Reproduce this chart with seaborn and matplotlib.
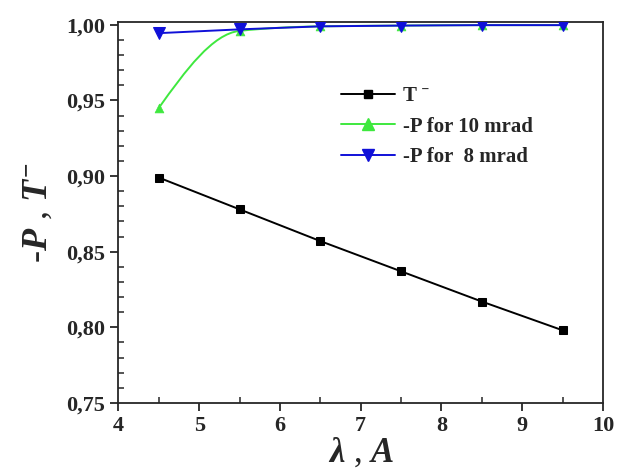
import numpy as np
import pandas as pd
import matplotlib
matplotlib.use("Agg")
import matplotlib.pyplot as plt
import seaborn as sns
from matplotlib.path import Path
from matplotlib.patches import PathPatch
from matplotlib.lines import Line2D
from matplotlib.ticker import MultipleLocator, FuncFormatter

# data
wavelength = [4.5, 5.5, 6.5, 7.5, 8.5, 9.5]
t_minus = [0.899, 0.878, 0.857, 0.837, 0.817, 0.798]
p_10mrad = [0.945, 0.996, 0.999, 0.9995, 0.9998, 0.9998]
p_8mrad = [0.9945, 0.997, 0.999, 0.9995, 0.9998, 0.9998]

black = "#000000"
green = "#3ee83e"
blue = "#1010d8"

sns.set_style("ticks")
plt.rcParams["font.family"] = ["Liberation Serif", "DejaVu Serif"]
plt.rcParams["font.weight"] = "bold"
plt.rcParams["mathtext.fontset"] = "custom"
plt.rcParams["mathtext.rm"] = "Liberation Serif:bold"
plt.rcParams["mathtext.it"] = "Liberation Serif:bold:italic"
plt.rcParams["mathtext.bf"] = "Liberation Serif:bold"

fig = plt.figure(figsize=(6.23, 4.74), dpi=100)
ax = fig.add_axes([0.190, 0.150, 0.778, 0.804])

df = pd.DataFrame({"x": wavelength, "T": t_minus, "P10": p_10mrad, "P8": p_8mrad})

sns.lineplot(data=df, x="x", y="T", ax=ax, color=black, lw=1.4,
             marker="s", markersize=5.5, markeredgecolor=black)


# smooth curve for the 10 mrad series (Origin-style spline), monotone cubic bezier
def smooth_path(xs, ys):
    xs = np.asarray(xs, float)
    ys = np.asarray(ys, float)
    h = np.diff(xs)
    d = np.diff(ys) / h
    m = np.zeros_like(ys)
    for i in range(1, len(xs) - 1):
        if d[i - 1] * d[i] <= 0:
            m[i] = 0
        else:
            m[i] = 2 / (1 / d[i - 1] + 1 / d[i])
    m[0] = ((2 * h[0] + h[1]) * d[0] - h[0] * d[1]) / (h[0] + h[1])
    m[-1] = d[-1]
    verts = [(xs[0], ys[0])]
    codes = [Path.MOVETO]
    for i in range(len(xs) - 1):
        verts += [(xs[i] + h[i] / 3, ys[i] + m[i] * h[i] / 3),
                  (xs[i + 1] - h[i] / 3, ys[i + 1] - m[i + 1] * h[i] / 3),
                  (xs[i + 1], ys[i + 1])]
        codes += [Path.CURVE4] * 3
    return Path(verts, codes)


ax.add_patch(PathPatch(smooth_path(wavelength, p_10mrad), fill=False,
                       edgecolor=green, lw=1.4, zorder=2))
sns.scatterplot(data=df, x="x", y="P10", ax=ax, color=green, marker="^",
                s=40, edgecolor=green, zorder=3)
sns.lineplot(data=df, x="x", y="P8", ax=ax, color=blue, lw=1.4,
             marker="v", markersize=9, markeredgecolor=blue, zorder=4)

ax.set_xlim(4, 10)
ax.set_ylim(0.75, 1.002)
ax.xaxis.set_major_locator(MultipleLocator(1))
ax.xaxis.set_minor_locator(MultipleLocator(0.5))
ax.yaxis.set_major_locator(MultipleLocator(0.05))
ax.yaxis.set_minor_locator(MultipleLocator(0.01))
ax.yaxis.set_major_formatter(FuncFormatter(lambda v, p: f"{v:.2f}".replace(".", ",")))
ax.tick_params(which="major", direction="out", length=6, width=1.3,
               labelsize=16)
ax.tick_params(which="minor", direction="in", length=4, width=1.1)
for s in ax.spines.values():
    s.set_linewidth(1.3)

ax.set_xlabel(r"$\lambda$ , $A$", fontsize=25, labelpad=0)
ax.set_ylabel(r"-$P$ , $T^{-}$", fontsize=26, labelpad=8)

handles = [
    Line2D([], [], color=black, lw=1.4, marker="s", markersize=5.5),
    Line2D([], [], color=green, lw=1.4, marker="^", markersize=8),
    Line2D([], [], color=blue, lw=1.4, marker="v", markersize=8),
]
labels = ["T \u02c9", "-P for 10 mrad", "-P for  8 mrad"]
ax.legend(handles, labels, loc="upper left", bbox_to_anchor=(0.42, 0.88),
          frameon=False, handlelength=2.6, handletextpad=0.4,
          labelspacing=0.5,
          prop={"family": "Liberation Serif", "weight": "bold", "size": 15})

fig.savefig("out.png", dpi=100)
